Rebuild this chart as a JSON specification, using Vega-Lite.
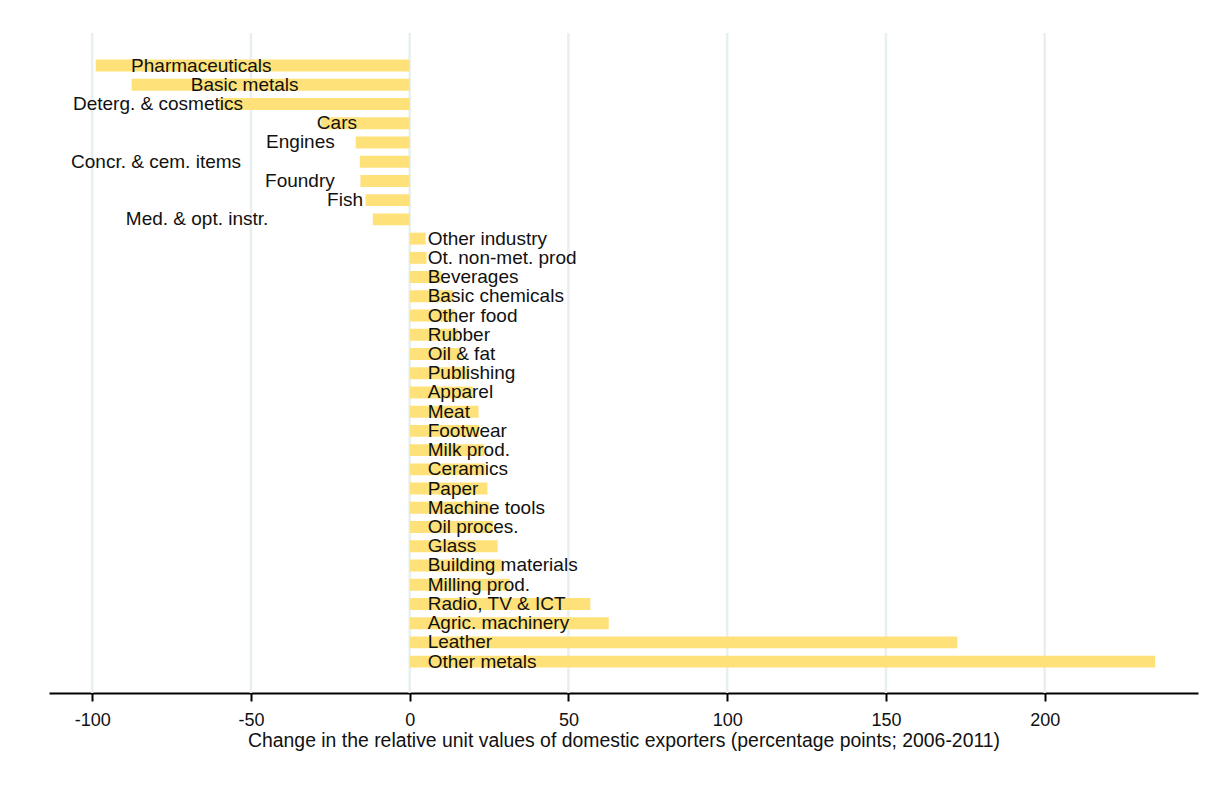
{
  "$schema": "https://vega.github.io/schema/vega-lite/v6.json",
  "autosize": "none",
  "width": 1149,
  "height": 660,
  "padding": {"left": 49, "top": 33, "right": 8, "bottom": 92},
  "background": "white",
  "config": {
    "view": {"stroke": null},
    "font": "Liberation Sans"
  },
  "datasets": {
    "sectors": [
      {"sector": "Pharmaceuticals", "value": -98.9, "labx": -43.5},
      {"sector": "Basic metals", "value": -87.6, "labx": -35.0},
      {"sector": "Deterg. & cosmetics", "value": -60.0, "labx": -52.5},
      {"sector": "Cars", "value": -28.0, "labx": -16.6},
      {"sector": "Engines", "value": -17.0, "labx": -23.6},
      {"sector": "Concr. & cem. items", "value": -15.7, "labx": -53.1},
      {"sector": "Foundry", "value": -15.5, "labx": -23.6},
      {"sector": "Fish", "value": -13.9, "labx": -14.7},
      {"sector": "Med. & opt. instr.", "value": -11.6, "labx": -44.5},
      {"sector": "Other industry", "value": 5.0},
      {"sector": "Ot. non-met. prod", "value": 5.3},
      {"sector": "Beverages", "value": 10.0},
      {"sector": "Basic chemicals", "value": 13.6},
      {"sector": "Other food", "value": 14.2},
      {"sector": "Rubber", "value": 15.2},
      {"sector": "Oil & fat", "value": 16.3},
      {"sector": "Publishing", "value": 18.9},
      {"sector": "Apparel", "value": 19.9},
      {"sector": "Meat", "value": 21.7},
      {"sector": "Footwear", "value": 21.8},
      {"sector": "Milk prod.", "value": 23.5},
      {"sector": "Ceramics", "value": 23.7},
      {"sector": "Paper", "value": 24.5},
      {"sector": "Machine tools", "value": 25.2},
      {"sector": "Oil proces.", "value": 26.2},
      {"sector": "Glass", "value": 27.7},
      {"sector": "Building materials", "value": 28.9},
      {"sector": "Milling prod.", "value": 31.5},
      {"sector": "Radio, TV & ICT", "value": 56.9},
      {"sector": "Agric. machinery", "value": 62.7},
      {"sector": "Leather", "value": 172.5},
      {"sector": "Other metals", "value": 234.8}
    ],
    "grid": [
      {"g": -100}, {"g": -50}, {"g": 0}, {"g": 50}, {"g": 100}, {"g": 150}, {"g": 200}
    ]
  },
  "layer": [
    {
      "data": {"name": "grid"},
      "mark": {"type": "rule", "color": "#e7eff1", "strokeWidth": 2.5},
      "encoding": {
        "x": {
          "field": "g",
          "type": "quantitative",
          "scale": {"domain": [-113.6, 248.3], "nice": false, "zero": false},
          "axis": {
            "values": [-100, -50, 0, 50, 100, 150, 200],
            "labelExpr": "datum.value < 0 ? '-' + abs(datum.value) : '' + datum.value",
            "title": "Change in the relative unit values of domestic exporters (percentage points; 2006-2011)",
            "titleFont": "Liberation Sans",
            "titleFontSize": 19.4,
            "titleFontWeight": "normal",
            "titleColor": "#111111",
            "titlePadding": 2,
            "labelFont": "Liberation Sans",
            "labelFontSize": 18,
            "labelColor": "#111111",
            "labelPadding": 10,
            "domainColor": "#000000",
            "domainWidth": 2,
            "tickColor": "#000000",
            "tickWidth": 2,
            "tickSize": 8,
            "grid": false
          }
        }
      }
    },
    {
      "data": {"name": "sectors"},
      "mark": {"type": "bar", "color": "#ffe17a"},
      "encoding": {
        "y": {
          "field": "sector",
          "type": "nominal",
          "sort": null,
          "scale": {"paddingInner": 0.38, "paddingOuter": 0, "range": [26.6, 634.6]},
          "axis": null
        },
        "x": {"field": "value", "type": "quantitative"}
      }
    },
    {
      "data": {"name": "sectors"},
      "transform": [{"filter": "datum.value > 0"}],
      "mark": {"type": "text", "align": "left", "baseline": "middle", "dx": 18, "fontSize": 19, "color": "#111111", "font": "Liberation Sans"},
      "encoding": {
        "y": {"field": "sector", "type": "nominal", "sort": null, "axis": null},
        "x": {"datum": 0, "type": "quantitative"},
        "text": {"field": "sector"}
      }
    },
    {
      "data": {"name": "sectors"},
      "transform": [{"filter": "datum.value < 0"}],
      "mark": {"type": "text", "align": "right", "baseline": "middle", "fontSize": 19, "color": "#111111", "font": "Liberation Sans"},
      "encoding": {
        "y": {"field": "sector", "type": "nominal", "sort": null, "axis": null},
        "x": {"field": "labx", "type": "quantitative"},
        "text": {"field": "sector"}
      }
    }
  ]
}
